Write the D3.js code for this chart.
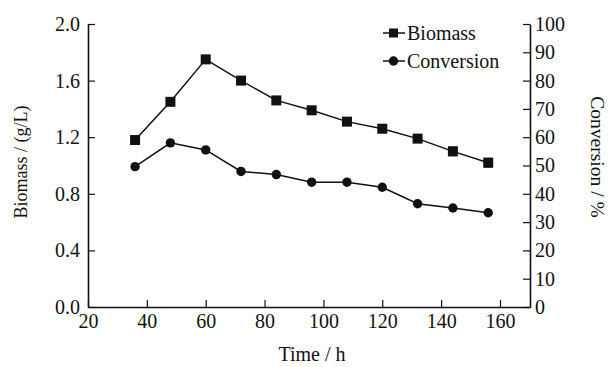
<!DOCTYPE html>
<html><head><meta charset="utf-8">
<script src="https://cdn.jsdelivr.net/npm/d3@7"></script>
<style>body{margin:0;background:#fff}svg{display:block}</style>
</head><body><svg id="c" width="609" height="367"></svg>
<script>
const time = [36, 48, 60, 72, 84, 96, 108, 120, 132, 144, 156];
const biomass = [1.18, 1.45, 1.75, 1.60, 1.46, 1.39, 1.31, 1.26, 1.19, 1.10, 1.02];
const biomassErr = [0.01, 0.01, 0.01, 0.01, 0.01, 0.01, 0.01, 0.01, 0.01, 0.03, 0.03];
const conversion = [49.6, 58.0, 55.5, 47.9, 46.8, 44.1, 44.1, 42.3, 36.5, 35.0, 33.3];
const xTicks = [20, 40, 60, 80, 100, 120, 140, 160];
const yLeftTicks = [0.0, 0.4, 0.8, 1.2, 1.6, 2.0];
const yRightTicks = [0, 10, 20, 30, 40, 50, 60, 70, 80, 90, 100];
const seriesNames = ["Biomass", "Conversion"];

const FONT = '"Liberation Serif", "DejaVu Serif", "Times New Roman", serif';
const svg = d3.select("#c");
const L = 88, R = 530, T = 24, B = 307;
const x = d3.scaleLinear().domain([20, 170.2]).range([L, R]);
const yL = d3.scaleLinear().domain([0, 2.0]).range([B, T]);
const yR = d3.scaleLinear().domain([0, 100]).range([B, T]);

function styleAxis(g){
  g.attr("font-family", FONT).attr("font-size", 20);
  g.select(".domain").attr("stroke","#111").attr("stroke-width",1.6);
  g.selectAll(".tick line").attr("stroke","#111").attr("stroke-width",1.2);
  g.selectAll(".tick text").attr("fill","#111").style("font-family",FONT).style("font-size","20px");
}
const gx = svg.append("g").attr("transform",`translate(0,${B})`)
  .call(d3.axisBottom(x).tickValues(xTicks).tickSize(-7).tickPadding(7).tickSizeOuter(0));
styleAxis(gx);
const gl = svg.append("g").attr("transform",`translate(${L},0)`)
  .call(d3.axisLeft(yL).tickValues(yLeftTicks).tickFormat(d3.format(".1f")).tickSize(-7).tickPadding(8).tickSizeOuter(0));
styleAxis(gl);
const gr = svg.append("g").attr("transform",`translate(${R},0)`)
  .call(d3.axisRight(yR).tickValues(yRightTicks).tickSize(-7).tickPadding(5).tickSizeOuter(0));
styleAxis(gr);

function title(t){ return t.style("font-family",FONT).attr("fill","#111"); }
title(svg.append("text").attr("x",312).attr("y",361).attr("text-anchor","middle").style("font-size","20px").text("Time / h"));
title(svg.append("text").attr("transform","translate(21,162) rotate(-90)").attr("dy","0.35em").attr("text-anchor","middle").style("font-size","18px").text("Biomass / (g/L)"));
title(svg.append("text").attr("transform","translate(598,157) rotate(90)").attr("dy","0.35em").attr("text-anchor","middle").style("font-size","19.5px").text("Conversion / %"));

const lineB = d3.line().x((d,i)=>x(time[i])).y(d=>yL(d));
const lineC = d3.line().x((d,i)=>x(time[i])).y(d=>yR(d));
svg.append("path").attr("d",lineB(biomass)).attr("fill","none").attr("stroke","#111").attr("stroke-width",1.5);
svg.append("path").attr("d",lineC(conversion)).attr("fill","none").attr("stroke","#111").attr("stroke-width",1.5);

const eb = svg.append("g").attr("stroke","#111").attr("stroke-width",1.2);
biomass.forEach((v,i)=>{
  const cx = x(time[i]);
  const y1 = yL(v+biomassErr[i]), y2 = yL(v-biomassErr[i]);
  eb.append("line").attr("x1",cx).attr("x2",cx).attr("y1",y1).attr("y2",y2);
  eb.append("line").attr("x1",cx-4).attr("x2",cx+4).attr("y1",y1).attr("y2",y1);
  eb.append("line").attr("x1",cx-4).attr("x2",cx+4).attr("y1",y2).attr("y2",y2);
});
const s = 10;
svg.append("g").selectAll("rect").data(biomass).join("rect")
  .attr("x",(d,i)=>x(time[i])-s/2).attr("y",d=>yL(d)-s/2).attr("width",s).attr("height",s).attr("fill","#111");
svg.append("g").selectAll("circle").data(conversion).join("circle")
  .attr("cx",(d,i)=>x(time[i])).attr("cy",d=>yR(d)).attr("r",4.7).attr("fill","#111");

const leg = svg.append("g");
[0,1].forEach(k=>{
  const ly = k===0 ? 33 : 61;
  leg.append("line").attr("x1",383).attr("x2",405).attr("y1",ly).attr("y2",ly).attr("stroke","#111").attr("stroke-width",1.5);
  if(k===0) leg.append("rect").attr("x",389).attr("y",ly-4.5).attr("width",9).attr("height",9).attr("fill","#111");
  else leg.append("circle").attr("cx",393.5).attr("cy",ly).attr("r",4.7).attr("fill","#111");
  title(leg.append("text").attr("x",407).attr("y",ly).attr("dy","0.35em").style("font-size","20px").text(seriesNames[k]));
});
</script></body></html>
